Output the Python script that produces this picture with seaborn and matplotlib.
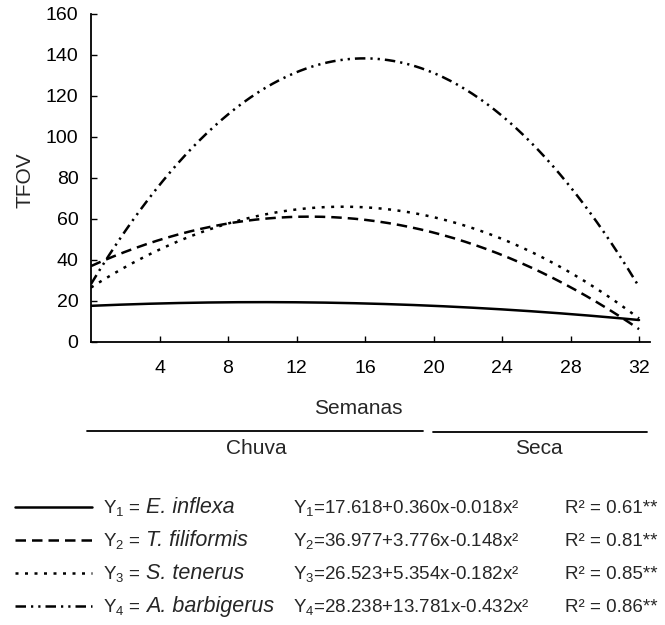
import numpy as np
import pandas as pd
import matplotlib
matplotlib.use('Agg')
import matplotlib.pyplot as plt
from matplotlib.lines import Line2D
import seaborn as sns

# coefficients of the fitted quadratics, as printed under the chart
especies = ['E. inflexa', 'T. filiformis', 'S. tenerus', 'A. barbigerus']
intercepto = [17.618, 36.977, 26.523, 28.238]
coef_x = [0.360, 3.776, 5.354, 13.781]
coef_x2 = [-0.018, -0.148, -0.182, -0.432]
r2 = [0.61, 0.81, 0.85, 0.86]

semana_ticks = [4, 8, 12, 16, 20, 24, 28, 32]
tfov_ticks = [0, 20, 40, 60, 80, 100, 120, 140, 160]
estacoes = ['Chuva', 'Seca']

sns.set_style('ticks')
plt.rcParams['font.family'] = ['Liberation Sans', 'DejaVu Sans']
plt.rcParams['mathtext.fontset'] = 'custom'
plt.rcParams['mathtext.rm'] = 'Liberation Sans'
plt.rcParams['mathtext.it'] = 'Liberation Sans:italic'

dashes = {
    'E. inflexa': '',
    'T. filiformis': (4.2, 2.4),
    'S. tenerus': (1.2, 2.6),
    'A. barbigerus': (4.2, 2.0, 0.9, 2.0, 0.9, 2.0),
}
lw = 1.8

# evaluate each regression over the 32 weeks
semanas = np.linspace(0, 32, 300)
partes = []
for i, esp in enumerate(especies):
    y = intercepto[i] + coef_x[i] * semanas + coef_x2[i] * semanas ** 2
    partes.append(pd.DataFrame({'Semanas': semanas, 'TFOV': y, 'especie': esp}))
df = pd.concat(partes, ignore_index=True)

W, H = 665, 625
fig = plt.figure(figsize=(W / 100, H / 100), dpi=100)
ax = fig.add_axes([91 / W, 1 - 342 / H, 559 / W, 328.5 / H])

sns.lineplot(data=df, x='Semanas', y='TFOV', style='especie', dashes=dashes,
             color='black', linewidth=lw, legend=False, estimator=None,
             sort=False, ax=ax)

ax.set_xlim(0, 32.64)
ax.set_ylim(0, 160)
ax.set_xticks(semana_ticks)
ax.set_yticks(tfov_ticks)
ax.tick_params(direction='in', length=4, width=1, labelsize=14, colors='black')
ax.tick_params(axis='x', pad=13)
ax.tick_params(axis='y', pad=9)
ax.set_xlabel('')
ax.set_ylabel('')
sns.despine(ax=ax)
for s in ['left', 'bottom']:
    ax.spines[s].set_linewidth(1.3)
    ax.spines[s].set_color('black')

def fx(px):
    return px / W

def fy(py):
    return 1 - py / H

fig.text(fx(25), fy(180), 'TFOV', rotation=90, ha='center', va='center', fontsize=15)
fig.text(fx(358), fy(409), 'Semanas', ha='center', va='center', fontsize=15)

# season bars under the axis
fig.add_artist(Line2D([fx(87), fx(423)], [fy(431), fy(431)], color='black', lw=1.3))
fig.add_artist(Line2D([fx(433), fx(647)], [fy(432), fy(432)], color='black', lw=1.3))
fig.text(fx(256), fy(448), estacoes[0], ha='center', va='center', fontsize=15)
fig.text(fx(539), fy(448), estacoes[1], ha='center', va='center', fontsize=15)

# legend with the equations
linhas_y = [507, 540, 573, 606]
for i, esp in enumerate(especies):
    yy = fy(linhas_y[i])
    d = dashes[esp]
    if d == '':
        fig.add_artist(Line2D([fx(15), fx(92)], [yy, yy], color='black', lw=lw))
    else:
        fig.add_artist(Line2D([fx(15), fx(92)], [yy, yy], color='black', lw=lw,
                              dashes=d))
    base = fy(linhas_y[i] + 6)
    fig.text(fx(103), base, 'Y$_{%d}$ =' % (i + 1), ha='left', va='baseline',
             fontsize=13.5)
    fig.text(fx(146), base, esp, ha='left', va='baseline', fontsize=15.5,
             style='italic')
    eq = 'Y$_{%d}$=%.3f+%.3fx-%.3fx\u00b2' % (i + 1, intercepto[i], coef_x[i], abs(coef_x2[i]))
    fig.text(fx(293), base, eq, ha='left', va='baseline', fontsize=13.5)
    fig.text(fx(565), base, 'R\u00b2 = %.2f**' % r2[i], ha='left', va='baseline',
             fontsize=13.5)

fig.savefig('out.png', dpi=100)
